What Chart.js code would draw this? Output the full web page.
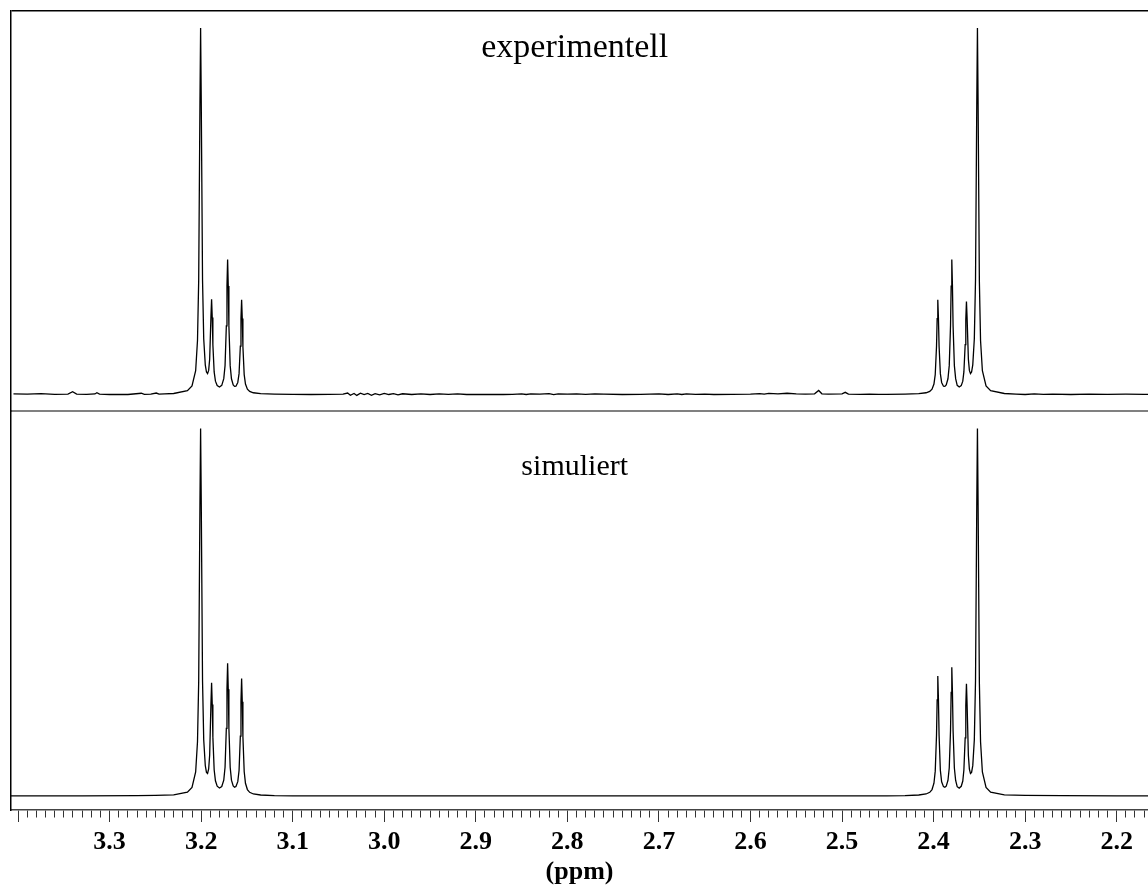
<!DOCTYPE html>
<html>
<head>
<meta charset="utf-8">
<script src="https://cdn.jsdelivr.net/npm/chart.js@4.4.1/dist/chart.umd.min.js"></script>
<style>
  html, body { margin: 0; padding: 0; background: #fff; }
  canvas { display: block; }
</style>
</head>
<body>
<canvas id="c" width="1148" height="886"></canvas>
<script>
// ---- x axis (ppm) ----
const X_MIN = 2.1658;
const X_MAX = 3.4077;
const majorValues = [3.3, 3.2, 3.1, 3.0, 2.9, 2.8, 2.7, 2.6, 2.5, 2.4, 2.3, 2.2];
const majorLabels = ['3.3', '3.2', '3.1', '3.0', '2.9', '2.8', '2.7', '2.6', '2.5', '2.4', '2.3', '2.2'];
const axisTitle = '(ppm)';
const panelLabels = ['experimentell', 'simuliert'];

// ---- left multiplet (around 3.18 ppm) ----
const leftPpm = [3.2300, 3.2150, 3.2100, 3.2060, 3.2040, 3.2027, 3.2013, 3.2006, 3.1999, 3.1985,
  3.1972, 3.1955, 3.1942, 3.1930, 3.1918, 3.1907, 3.1893, 3.1886, 3.1879, 3.1872,
  3.1858, 3.1844, 3.1825, 3.1800, 3.1775, 3.1753, 3.1739, 3.1725, 3.1718, 3.1711,
  3.1704, 3.1697, 3.1683, 3.1669, 3.1650, 3.1635, 3.1620, 3.1600, 3.1586, 3.1572,
  3.1565, 3.1558, 3.1551, 3.1544, 3.1530, 3.1516, 3.1495, 3.1470, 3.1430, 3.1350,
  3.1200, 3.1000];
const expLeft = [0.28, 1.06, 2.34, 6.52, 14.79, 31.13, 80.4, 100.4, 80.48, 31.4,
  15.26, 8.13, 6.17, 5.72, 6.6, 9.7, 21.4, 26.1, 21.1, 13.65,
  6.18, 3.65, 2.44, 2.05, 2.51, 4.35, 7.92, 18.8, 29.7, 37.0,
  29.7, 18.8, 7.91, 4.31, 2.64, 2.24, 2.28, 3.3, 5.72, 13.27,
  20.9, 25.95, 20.8, 13.14, 5.45, 2.86, 1.46, 0.86, 0.48, 0.24,
  0.12, 0.06];
const simLeft = [0.29, 1.07, 2.36, 6.56, 14.83, 31.19, 80.45, 100.5, 80.56, 31.5,
  15.4, 8.33, 6.47, 6.18, 7.4, 11.2, 25.3, 31.0, 25.0, 16.1,
  7.16, 4.15, 2.69, 2.18, 2.59, 4.35, 7.84, 18.5, 29.2, 36.3,
  29.2, 18.5, 7.84, 4.34, 2.75, 2.41, 2.58, 3.92, 6.96, 16.4,
  25.85, 32.15, 25.8, 16.25, 6.68, 3.48, 1.76, 1.01, 0.55, 0.27,
  0.12, 0.06];

// ---- right multiplet (around 2.37 ppm) ----
const rightPpm = [2.4512, 2.4312, 2.4162, 2.4082, 2.4042, 2.4017, 2.3996, 2.3982, 2.3968, 2.3961,
  2.3954, 2.3947, 2.3940, 2.3926, 2.3912, 2.3892, 2.3877, 2.3862, 2.3843, 2.3829,
  2.3815, 2.3808, 2.3801, 2.3794, 2.3787, 2.3773, 2.3759, 2.3742, 2.3720, 2.3698,
  2.3681, 2.3669, 2.3655, 2.3648, 2.3641, 2.3634, 2.3620, 2.3609, 2.3597, 2.3585,
  2.3572, 2.3555, 2.3542, 2.3528, 2.3521, 2.3514, 2.3500, 2.3487, 2.3467, 2.3427,
  2.3377, 2.3227];
const expRight = [0.06, 0.12, 0.24, 0.48, 0.86, 1.46, 2.86, 5.45, 13.14, 20.8,
  25.95, 20.9, 13.27, 5.72, 3.3, 2.28, 2.24, 2.64, 4.31, 7.91,
  18.8, 29.7, 37.0, 29.7, 18.8, 7.92, 4.35, 2.51, 2.05, 2.44,
  3.65, 6.18, 13.65, 20.6, 25.5, 21.0, 9.7, 6.6, 5.72, 6.17,
  8.13, 15.26, 31.4, 80.48, 100.4, 80.4, 31.13, 14.79, 6.52, 2.34,
  1.06, 0.28];
const simRight = [0.06, 0.12, 0.27, 0.55, 1.01, 1.76, 3.5, 6.8, 16.6, 26.3,
  32.8, 26.4, 16.7, 7.0, 3.9, 2.56, 2.38, 2.7, 4.25, 7.65,
  17.9, 28.3, 35.2, 28.3, 17.9, 7.65, 4.25, 2.55, 2.16, 2.66,
  4.1, 7.1, 15.9, 24.8, 30.7, 25.0, 11.1, 7.35, 6.15, 6.45,
  8.3, 15.4, 31.5, 80.56, 100.5, 80.45, 31.19, 14.83, 6.56, 2.36,
  1.07, 0.29];

// ---- experimental baseline (noise) ----
const expBasePpm1 = [3.405, 3.39, 3.375, 3.36, 3.3455, 3.3404, 3.336, 3.325, 3.316, 3.3139,
  3.311, 3.30, 3.29, 3.28, 3.2654, 3.262, 3.255, 3.249, 3.246, 3.24];
const expBase1 = [0.15, 0.1, 0.25, 0.05, 0.1, 0.75, 0.1, 0.05, 0.15, 0.5,
  0.1, 0.0, 0.05, 0.0, 0.35, 0.05, 0.1, 0.4, 0.1, 0.15];
const expBasePpm2 = [3.08, 3.06, 3.045, 3.04, 3.037, 3.033, 3.03, 3.026, 3.022, 3.018,
  3.014, 3.01, 3.005, 3.0, 2.995, 2.99, 2.985, 2.98, 2.97, 2.96,
  2.95, 2.94, 2.93, 2.92, 2.91, 2.90, 2.87, 2.86, 2.85, 2.845,
  2.84, 2.83, 2.82, 2.815, 2.81, 2.80, 2.79, 2.78, 2.77, 2.76,
  2.74, 2.72, 2.70, 2.69, 2.68, 2.675, 2.67, 2.66, 2.65, 2.64,
  2.62, 2.60, 2.59, 2.585, 2.58, 2.57, 2.56, 2.55, 2.54, 2.53,
  2.5255, 2.522, 2.515, 2.50, 2.4965, 2.493, 2.48, 2.47, 2.46];
const expBase2 = [0.0, 0.05, 0.1, 0.4, -0.2, 0.3, -0.25, 0.35, 0.0, 0.3,
  -0.2, 0.25, -0.1, 0.3, 0.0, 0.25, -0.1, 0.2, 0.0, 0.15,
  0.0, 0.15, 0.05, 0.2, 0.0, 0.0, 0.0, 0.05, 0.2, 0.0,
  0.2, 0.1, 0.25, -0.05, 0.2, 0.1, 0.2, 0.05, 0.15, 0.1,
  0.0, 0.05, 0.15, 0.0, 0.2, 0.0, 0.2, 0.05, 0.1, 0.0,
  0.05, 0.1, 0.25, 0.1, 0.3, 0.2, 0.35, 0.15, 0.1, 0.2,
  1.1, 0.2, 0.1, 0.2, 0.6, 0.1, 0.05, 0.1, 0.05];
const expBasePpm3 = [2.31, 2.30, 2.29, 2.28, 2.27, 2.25, 2.23, 2.21, 2.19, 2.17, 2.16];
const expBase3 = [0.1, 0.0, 0.15, 0.05, 0.1, 0.0, 0.1, 0.05, 0.1, 0.05, 0.0];

// ---- simulated baseline (flat) ----
const simBasePpm1 = [3.41, 3.33, 3.27, 3.25];
const simBase1 = [0.03, 0.06, 0.12, 0.18];
const simBasePpm2 = [3.05, 2.78, 2.50];
const simBase2 = [0.03, 0.01, 0.03];
const simBasePpm3 = [2.30, 2.26, 2.20, 2.16];
const simBase3 = [0.15, 0.08, 0.04, 0.03];

// ---- y ranges of the two stacked panels ----
const EXP_MIN = -4.38, EXP_MAX = 105.05;
const SIM_MIN = -3.83, SIM_MAX = 105.43;
const LABEL_PPM = 2.792;

function pts(xs, ys) { return xs.map((x, i) => ({ x: x, y: ys[i] })); }
const expData = [].concat(pts(expBasePpm1, expBase1), pts(leftPpm, expLeft), pts(expBasePpm2, expBase2),
  pts(rightPpm, expRight), pts(expBasePpm3, expBase3));
const simData = [].concat(pts(simBasePpm1, simBase1), pts(leftPpm, simLeft), pts(simBasePpm2, simBase2),
  pts(rightPpm, simRight), pts(simBasePpm3, simBase3));

function isHundredth(v) { return Math.abs(v * 100 - Math.round(v * 100)) < 1e-6; }
function isMajor(v) { return Math.abs(v * 10 - Math.round(v * 10)) < 1e-6; }

const serif = 'Liberation Serif, "Times New Roman", serif';

const panelLabelPlugin = {
  id: 'panelLabels',
  afterDatasetsDraw(chart) {
    const ctx = chart.ctx;
    const x = chart.scales.x.getPixelForValue(LABEL_PPM);
    ctx.save();
    ctx.textAlign = 'center';
    ctx.textBaseline = 'alphabetic';
    ctx.fillStyle = '#000';
    ctx.font = '34px ' + serif;
    ctx.fillText(panelLabels[0], x, chart.scales.yExp.top + 46);
    ctx.font = '30px ' + serif;
    ctx.fillText(panelLabels[1], x, chart.scales.ySim.top + 64);
    ctx.restore();
  }
};

new Chart(document.getElementById('c'), {
  type: 'line',
  data: {
    datasets: [
      { label: panelLabels[0], data: expData, yAxisID: 'yExp', borderColor: '#000', borderWidth: 1.3,
        pointRadius: 0, tension: 0, fill: false },
      { label: panelLabels[1], data: simData, yAxisID: 'ySim', borderColor: '#000', borderWidth: 1.3,
        pointRadius: 0, tension: 0, fill: false }
    ]
  },
  options: {
    responsive: false,
    devicePixelRatio: 1,
    animation: false,
    parsing: false,
    layout: { padding: { left: 11, top: 11, right: 0, bottom: 0 } },
    plugins: { legend: { display: false }, tooltip: { enabled: false }, title: { display: false } },
    scales: {
      x: {
        type: 'linear', position: 'bottom', reverse: true, min: X_MIN, max: X_MAX,
        afterBuildTicks: (scale) => { scale.ticks = scale.ticks.filter(t => isHundredth(t.value)); },
        afterFit: (scale) => { scale.height = 76; },
        ticks: {
          stepSize: 0.01, includeBounds: false, autoSkip: false, maxRotation: 0, minRotation: 0,
          padding: 0, color: '#000',
          font: { family: serif, size: 26, weight: 'bold', lineHeight: 40 / 26 },
          callback: (v) => {
            const i = majorValues.findIndex(m => Math.abs(m - v) < 1e-6);
            return i >= 0 ? majorLabels[i] : '';
          }
        },
        grid: {
          display: true, drawOnChartArea: false, drawTicks: true, tickLength: 12,
          tickColor: '#333', tickWidth: 1,
          tickBorderDash: (ctx) => (ctx.tick && isMajor(ctx.tick.value)) ? [] : [7, 100]
        },
        border: { display: true, color: '#444', width: 1.5 },
        title: {
          display: true, text: axisTitle, color: '#000',
          font: { family: serif, size: 26, weight: 'bold', lineHeight: 1 },
          padding: { top: 0, bottom: 1 }
        }
      },
      ySim: {
        type: 'linear', position: 'left', stack: 'spectra', stackWeight: 1,
        min: SIM_MIN, max: SIM_MAX,
        ticks: { display: false },
        grid: { display: false, drawTicks: false },
        border: { display: true, color: '#000', width: 1.5 }
      },
      yExp: {
        type: 'linear', position: 'left', stack: 'spectra', stackWeight: 1,
        min: EXP_MIN, max: EXP_MAX,
        afterBuildTicks: (scale) => { scale.ticks = [{ value: scale.min }, { value: scale.max }]; },
        ticks: { display: false },
        grid: {
          display: true, drawTicks: false,
          color: (ctx) => (ctx.tick && ctx.tick.value === EXP_MAX) ? '#000' : '#808080',
          lineWidth: (ctx) => (ctx.tick && ctx.tick.value === EXP_MAX) ? 1.5 : 2
        },
        border: { display: true, color: '#000', width: 1.5 }
      }
    }
  },
  plugins: [panelLabelPlugin]
});
</script>
</body>
</html>
